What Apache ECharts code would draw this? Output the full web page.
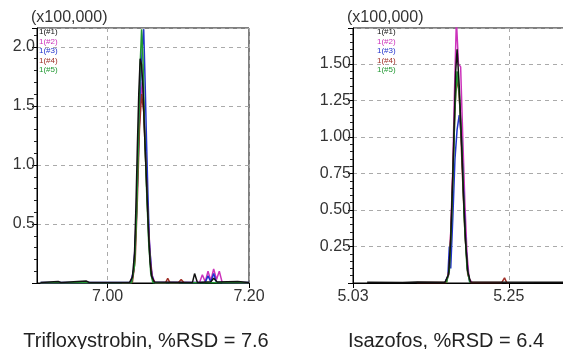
<!DOCTYPE html>
<html>
<head>
<meta charset="utf-8">
<script src="https://cdn.jsdelivr.net/npm/echarts@6/dist/echarts.min.js"></script>
<style>
  html, body { margin: 0; padding: 0; background: #fff; }
  #chart { width: 563px; height: 349px; }
</style>
</head>
<body>
<div id="chart"></div>
<script>
// run labels shown in the small legend of each panel
const runNames = ['1(#1)', '1(#2)', '1(#3)', '1(#4)', '1(#5)'];
const runColors = ['#111111', '#cc33bb', '#2233cc', '#a03028', '#229933'];

// Trifloxystrobin chromatograms, [retention time (min), intensity (x100,000)]
const triflox1 = [[6.905, 0.005], [6.93, 0.012], [6.934, 0.004], [6.97, 0.016], [6.974, 0.004], [7.031, 0.005], [7.035, 0.05], [7.038, 0.25], [7.040, 0.65], [7.042, 1.15], [7.044, 1.6], [7.046, 1.9], [7.048, 1.85], [7.050, 1.65], [7.052, 1.3], [7.054, 1.0], [7.056, 0.7], [7.058, 0.4], [7.060, 0.18], [7.062, 0.06], [7.066, 0.008], [7.12, 0.005], [7.123, 0.08], [7.127, 0.005], [7.146, 0.01], [7.15, 0.04], [7.155, 0.008], [7.184, 0.012], [7.2, 0.005]];
const triflox2 = [[6.905, 0.003], [7.032, 0.004], [7.037, 0.1], [7.040, 0.5], [7.043, 1.1], [7.046, 1.5], [7.049, 1.7], [7.051, 1.5], [7.054, 1.1], [7.057, 0.6], [7.060, 0.25], [7.063, 0.06], [7.067, 0.004], [7.13, 0.005], [7.134, 0.07], [7.138, 0.01], [7.142, 0.1], [7.146, 0.02], [7.150, 0.12], [7.154, 0.03], [7.158, 0.1], [7.162, 0.005], [7.2, 0.003]];
const triflox3 = [[6.905, 0.004], [7.033, 0.004], [7.037, 0.12], [7.040, 0.45], [7.043, 1.0], [7.046, 1.6], [7.049, 2.0], [7.051, 2.15], [7.053, 1.7], [7.055, 1.2], [7.057, 0.75], [7.059, 0.35], [7.062, 0.1], [7.065, 0.005], [7.138, 0.005], [7.142, 0.06], [7.146, 0.01], [7.150, 0.08], [7.154, 0.005], [7.2, 0.004]];
const triflox4 = [[7.02, 0.003], [7.035, 0.004], [7.039, 0.2], [7.042, 0.7], [7.045, 1.3], [7.048, 1.6], [7.051, 1.45], [7.054, 1.0], [7.057, 0.55], [7.060, 0.2], [7.063, 0.04], [7.067, 0.003], [7.082, 0.003], [7.085, 0.04], [7.088, 0.003], [7.10, 0.003], [7.104, 0.03], [7.108, 0.003]];
const triflox5 = [[6.905, 0.002], [7.034, 0.003], [7.038, 0.15], [7.041, 0.6], [7.044, 1.3], [7.046, 1.85], [7.048, 2.15], [7.050, 1.9], [7.052, 1.35], [7.055, 0.8], [7.058, 0.35], [7.061, 0.08], [7.064, 0.003], [7.2, 0.002]];

// Isazofos chromatograms
const isaz1 = [[5.05, 0.005], [5.10, 0.004], [5.12, 0.006], [5.160, 0.005], [5.165, 0.06], [5.168, 0.3], [5.171, 0.75], [5.173, 1.1], [5.175, 1.45], [5.177, 1.6], [5.180, 1.35], [5.183, 1.0], [5.186, 0.6], [5.189, 0.28], [5.192, 0.08], [5.196, 0.006], [5.30, 0.005], [5.40, 0.005]];
const isaz2 = [[5.160, 0.004], [5.165, 0.05], [5.168, 0.35], [5.171, 0.8], [5.173, 1.25], [5.176, 1.8], [5.179, 1.5], [5.182, 1.48], [5.185, 1.0], [5.188, 0.55], [5.191, 0.2], [5.194, 0.03], [5.198, 0.004]];
const isaz3 = [[5.160, 0.004], [5.164, 0.05], [5.166, 0.25], [5.168, 0.1], [5.171, 0.45], [5.174, 0.85], [5.177, 1.05], [5.180, 1.15], [5.183, 1.0], [5.186, 0.65], [5.189, 0.3], [5.192, 0.08], [5.195, 0.004]];
const isaz4 = [[5.12, 0.003], [5.162, 0.003], [5.166, 0.1], [5.169, 0.45], [5.172, 0.9], [5.175, 1.3], [5.178, 1.4], [5.181, 1.2], [5.184, 0.8], [5.188, 0.35], [5.192, 0.06], [5.196, 0.003], [5.240, 0.003], [5.244, 0.035], [5.247, 0.003], [5.25, 0.002]];
const isaz5 = [[5.162, 0.003], [5.166, 0.08], [5.169, 0.4], [5.172, 0.85], [5.174, 1.2], [5.177, 1.45], [5.180, 1.3], [5.184, 0.9], [5.187, 0.45], [5.191, 0.1], [5.195, 0.003]];

const panelTitles = ['Trifloxystrobin, %RSD = 7.6', 'Isazofos, %RSD = 6.4'];
const leftTicks = [7.0, 7.2];
const rightTicks = [5.03, 5.25];

const chart = echarts.init(document.getElementById('chart'));
const font = 'Liberation Sans, Arial, sans-serif';

const traces = [
  [triflox1, triflox2, triflox3, triflox4, triflox5],
  [isaz1, isaz2, isaz3, isaz4, isaz5],
];

const series = [];
traces.forEach((runs, panel) => {
  runs.forEach((data, i) => {
    series.push({
      name: runNames[i],
      type: 'line',
      xAxisIndex: panel,
      yAxisIndex: panel,
      data: data,
      showSymbol: false,
      symbol: 'none',
      lineStyle: { width: 1.5, color: runColors[i] },
      itemStyle: { color: runColors[i] },
      z: i === 0 ? 3 : 2,
    });
  });
});

const legendData = runNames.map((n, i) => ({ name: n, textStyle: { color: runColors[i] } }));
const legendBase = {
  orient: 'vertical',
  top: 28,
  icon: 'none',
  itemWidth: 0,
  itemHeight: 8,
  itemGap: 1.5,
  padding: 0,
  selectedMode: false,
  textStyle: { fontSize: 8, fontFamily: font, padding: 0 },
  data: legendData,
};

const yCommon = (decimals) => ({
  type: 'value',
  min: 0,
  name: '(x100,000)',
  nameLocation: 'end',
  nameGap: 2,
  nameTextStyle: { fontSize: 16, fontFamily: font, color: '#333', align: 'left', padding: [0, 0, 0, -6] },
  axisLine: { show: true, lineStyle: { color: '#000', width: 1 } },
  axisTick: { show: true, length: 5, lineStyle: { color: '#000' } },
  minorTick: { show: true, splitNumber: 5, length: 3, lineStyle: { color: '#222', width: 1 } },
  axisLabel: {
    fontSize: 16, fontFamily: font, color: '#333', margin: 2, showMaxLabel: false,
    formatter: (v) => (v === 0 ? '' : v.toFixed(decimals)),
  },
  splitLine: { show: true, lineStyle: { color: '#aaa', type: [4, 4] } },
});

const xCommon = (ticks) => ({
  type: 'value',
  axisLine: { show: true, onZero: false, lineStyle: { color: '#000', width: 1 } },
  axisTick: { show: true, length: 5, customValues: ticks, lineStyle: { color: '#000' } },
  axisLabel: {
    fontSize: 16, fontFamily: font, color: '#333', margin: 6,
    customValues: ticks,
    formatter: (v) => v.toFixed(2),
  },
  splitLine: { show: true, lineStyle: { color: '#aaa', type: [4, 4] } },
});

chart.setOption({
  animation: false,
  backgroundColor: '#fff',
  title: [
    { text: panelTitles[0], left: 141, top: 326, textAlign: 'center',
      textStyle: { fontSize: 20, fontWeight: 'normal', color: '#222', fontFamily: font } },
    { text: panelTitles[1], left: 441, top: 326, textAlign: 'center',
      textStyle: { fontSize: 20, fontWeight: 'normal', color: '#222', fontFamily: font } },
  ],
  legend: [
    Object.assign({}, legendBase, { left: 34 }),
    Object.assign({}, legendBase, { left: 372 }),
  ],
  grid: [
    { left: 37, top: 28, width: 212, height: 255, show: true, borderColor: '#000', borderWidth: 1, outerBoundsMode: 'none' },
    { left: 353, top: 28, width: 262, height: 255, show: true, borderColor: '#000', borderWidth: 1, outerBoundsMode: 'none' },
  ],
  xAxis: [
    Object.assign(xCommon(leftTicks), { gridIndex: 0, min: 6.9, max: 7.2 }),
    Object.assign(xCommon(rightTicks), { gridIndex: 1, min: 5.03, max: 5.40 }),
  ],
  yAxis: [
    Object.assign(yCommon(1), { gridIndex: 0, max: 2.16, interval: 0.5 }),
    Object.assign(yCommon(2), { gridIndex: 1, max: 1.746, interval: 0.25 }),
  ],
  series: series,
});
</script>
</body>
</html>
